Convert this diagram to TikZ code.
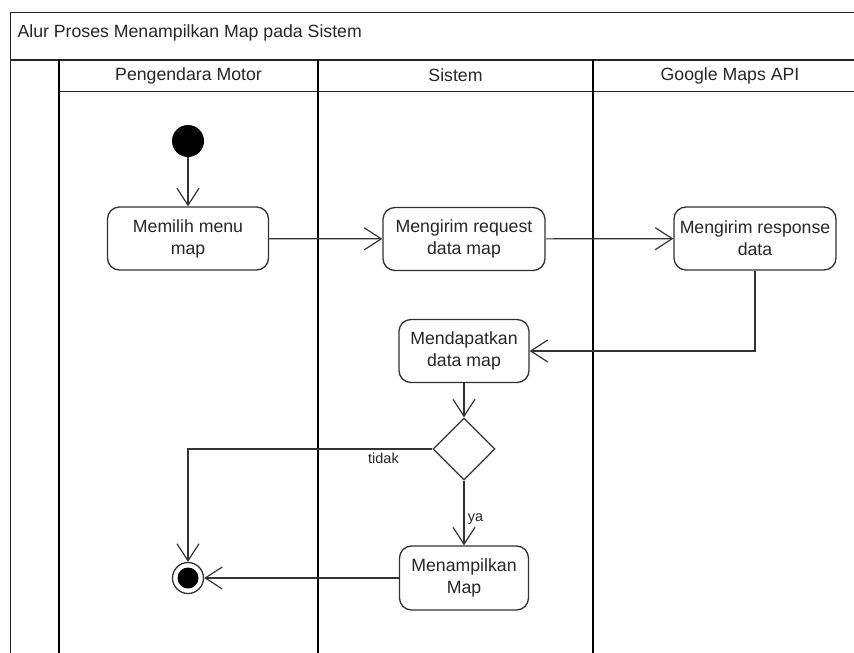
\documentclass[tikz,border=0pt]{standalone}
\usepackage{fontspec}
\setmainfont{Liberation Sans}
\usepackage{tikz}
\usetikzlibrary{arrows.meta,shapes.geometric}

\begin{document}
\begin{tikzpicture}[x=1pt, y=-1pt, color=black!85,
      every node/.append style={font=\fontsize{17.7}{22}\selectfont, text=black!85},
      flow/.style={-{Straight Barb[length=17pt,width=22pt]}, line width=1.2pt, draw=black!80},
      action/.style={draw=black!80, line width=1.3pt, rounded corners=12pt, align=center,
        minimum height=63pt, inner sep=2pt},
      lane/.style={draw=black, line width=2.6pt}]
    \tikzstyle{guard} = [font=\fontsize{14.5}{16}\selectfont]
    \useasboundingbox (0,0) rectangle (854,653);
    \clip (0,0) rectangle (854,653);
    % frame and swimlanes
    \draw[line width=1pt] (10,665) -- (10,12) -- (880,12);
    \draw[line width=1.8pt] (10,60) -- (880,60);
    \draw[line width=1pt] (59,91) -- (880,91);
    \foreach \x in {59,318,593}
      \draw[lane] (\x,60) -- (\x,665);
    \node[anchor=west] (title) at (14,33) {Alur Proses Menampilkan Map pada Sistem};
    \node (pengendara) at (188.5,75.5) {Pengendara Motor};
    \node (sistem) at (455.5,75.5) {Sistem};
    \node (google) at (730,75.5) {Google Maps API};
    % activities
    \node (start) [circle, fill=black, minimum size=32pt, inner sep=0pt] at (188,141) {};
    \node (memilih) [action, minimum width=161pt] at (188,238.5) {Memilih menu\\map};
    \node (request) [action, minimum width=162pt] at (464,239) {Mengirim request\\data map};
    \node (response) [action, minimum width=162pt] at (755,238.5) {Mengirim response\\data};
    \node (mendapatkan) [action, minimum width=130pt] at (464,351) {Mendapatkan\\data map};
    \node (cek) [diamond, draw=black!80, line width=1.3pt, minimum width=62pt, minimum height=62pt,
      inner sep=0pt] at (464,449) {};
    \node (tampil) [action, minimum width=129pt, minimum height=64pt] at (464,578) {Menampilkan\\Map};
    \node (end) [circle, draw=black!80, line width=1.3pt, minimum size=31pt, inner sep=0pt,
      path picture={\fill[black] (path picture bounding box.center) circle (10.5pt);}] at (188,578) {};
    % flows
    \draw[flow] (start) -- (memilih);
    \draw[flow] (memilih) -- (request);
    \draw[flow] (request) -- (response);
    \draw[flow] (response.south) |- (mendapatkan.east);
    \draw[flow] (mendapatkan) -- (cek);
    \draw[flow] (cek.west) -| node[guard, below, pos=0.1] {tidak} (end.north);
    \draw[flow] (cek) -- node[guard, right, pos=0.6] {ya} (tampil);
    \draw[flow] (tampil) -- (end);
\end{tikzpicture}
\end{document}
